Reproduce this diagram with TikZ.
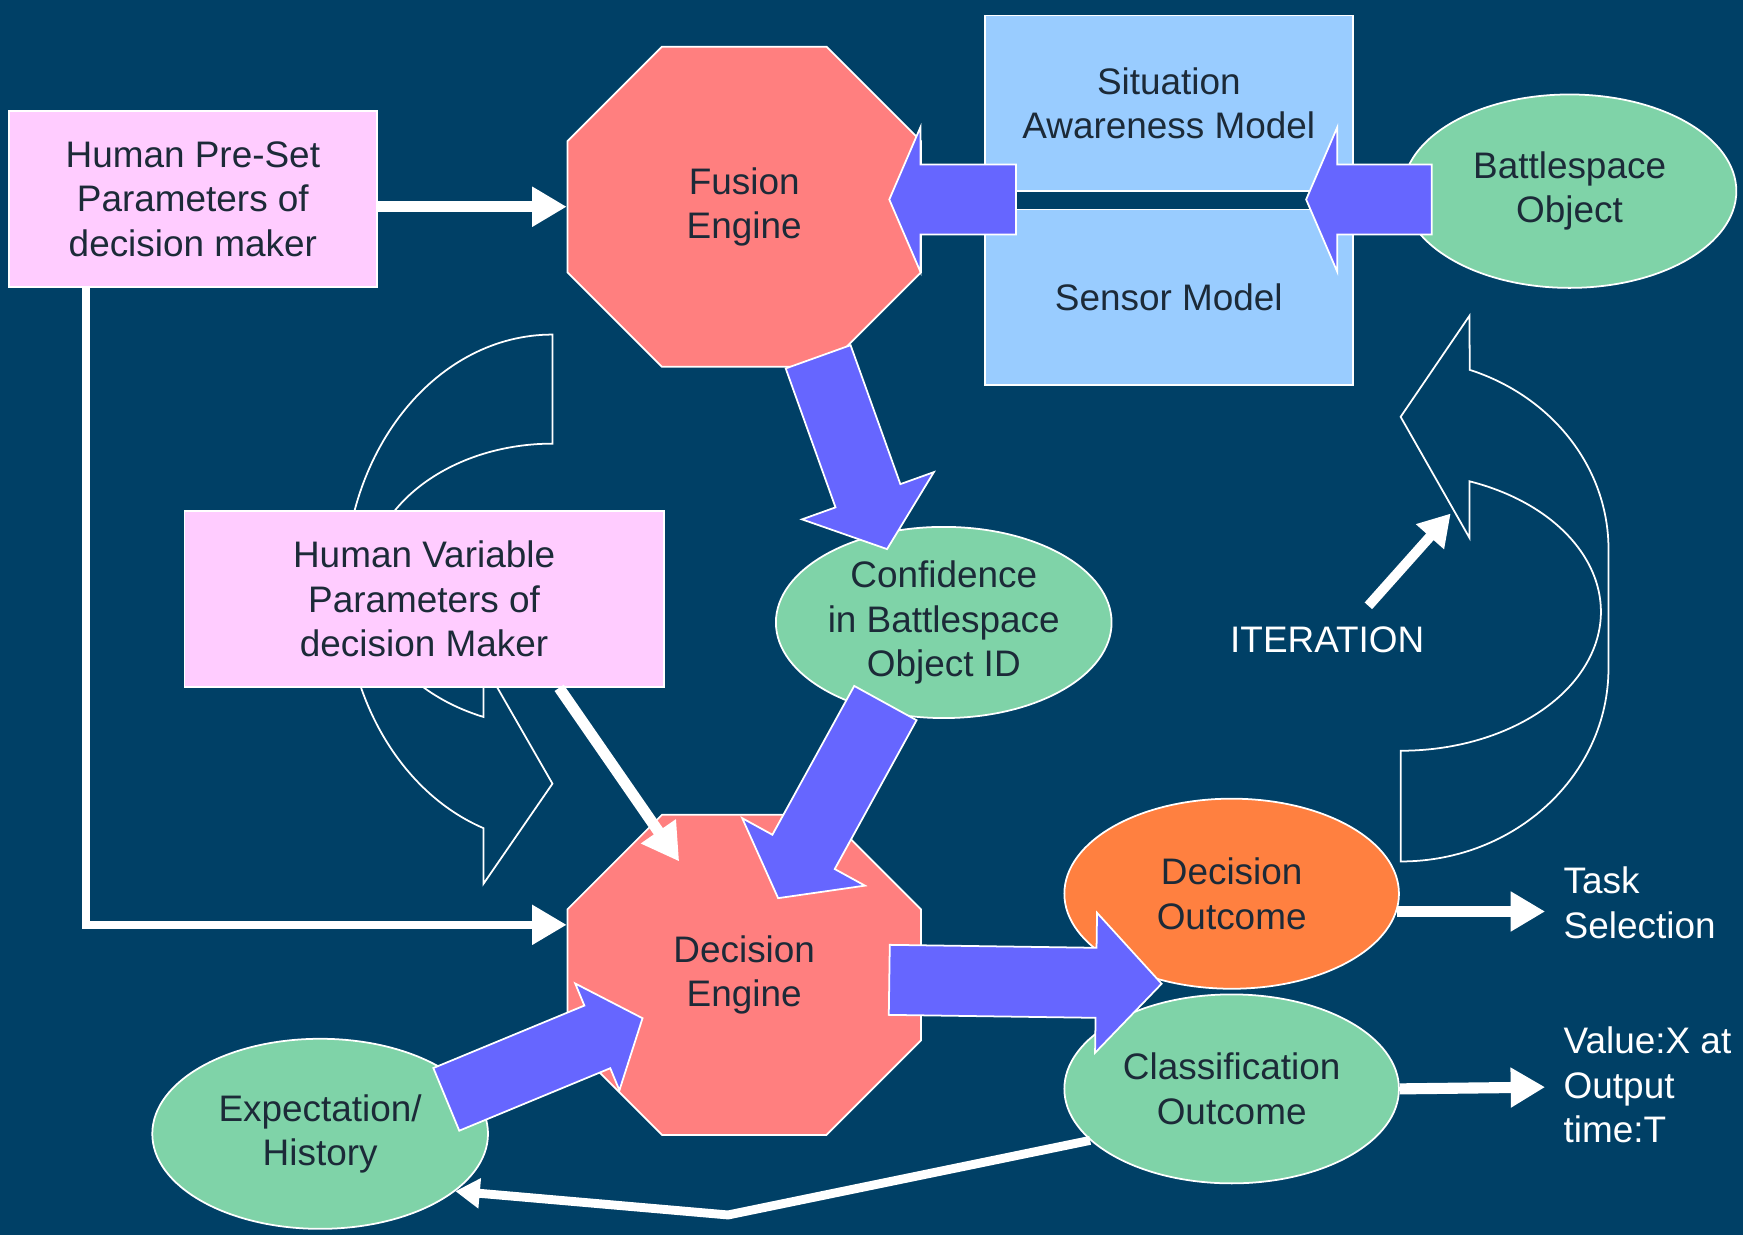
\documentclass[tikz,border=0pt]{standalone}
\usepackage{fontspec}
\setmainfont{Liberation Sans}
\usetikzlibrary{positioning,calc,shapes.geometric,arrows.meta}

\definecolor{bgblue}{HTML}{004066}
\definecolor{pinkbox}{HTML}{FFCCFF}
\definecolor{enginered}{HTML}{FF7F7F}
\definecolor{modelblue}{HTML}{99CCFF}
\definecolor{outgreen}{HTML}{7FD3A8}
\definecolor{outorange}{HTML}{FF8040}
\definecolor{fatblue}{HTML}{6666FF}
\definecolor{inktext}{HTML}{1C2A38}

\tikzset{
  box/.style={draw=white, line width=0.45pt, rectangle, inner sep=0pt, minimum height=15.8mm, text=inktext, align=center},
  blob/.style={draw=white, line width=0.45pt, ellipse, inner sep=0pt, minimum width=30.1mm, minimum height=17.1mm, fill=outgreen, text=inktext, align=center},
  enginetext/.style={inner sep=0pt, minimum width=31.8mm, minimum height=28.8mm, text=inktext, align=center},
  plain/.style={text=white, align=left, inner sep=0pt},
  whitearrow/.style={draw=white, line width=1mm, line join=miter, -{Triangle[length=3.1mm,width=3.4mm]}},
  outline/.style={draw=white, line width=0.45pt, line join=miter},
}

% octagon engine: name, centre, text
\newcommand{\enginebox}[3]{%
  \filldraw[fill=enginered, draw=white, line width=0.45pt] (#2) ++(-74,144) -- ++(148,0) -- ++(85,-85) -- ++(0,-118)
    -- ++(-85,-85) -- ++(-148,0) -- ++(-85,85) -- ++(0,118) -- cycle;
  \node[enginetext] (#1) at (#2) {#3};
}

% fat arrow: tail, tip, shaft half width, head half width, head length
\newcommand{\blockarrow}[5]{%
  \coordinate (ba-base) at ($(#2)!#5!(#1)$);
  \filldraw[fill=fatblue, draw=white, line width=0.45pt]
    ($(#1)!#3!90:(#2)$) -- ($(ba-base)!#3!-90:(#1)$) -- ($(ba-base)!#4!-90:(#1)$) -- (#2)
    -- ($(ba-base)!#4!90:(#1)$) -- ($(ba-base)!#3!90:(#1)$) -- ($(#1)!#3!-90:(#2)$) -- cycle;
}

\begin{document}
\begin{tikzpicture}[x=0.1mm, y=0.1mm, every node/.style={font=\fontsize{9.45}{11.4}\selectfont}]
	\fill[bgblue] (0,0) rectangle (1568,1111);
	\useasboundingbox (0,0) rectangle (1568,1111);

	% curved outline arrows
	\draw[outline] (497,810) arc[start angle=90, end angle=250.6, x radius=18.7mm, y radius=22.85mm]
		-- (435,316) -- (497,406) -- (435,514) -- (435,466)
		arc[start angle=248.2, end angle=90, x radius=16.7mm, y radius=12.75mm] -- cycle;
	\draw[outline] (1260,336) arc[start angle=270, end angle=360, x radius=18.7mm, y radius=17.4mm]
		-- (1447,617) arc[start angle=0, end angle=70.6, x radius=18.7mm, y radius=17.1mm]
		-- (1322,827) -- (1260,736) -- (1322,627) -- (1322,678)
		arc[start angle=69.9, end angle=-90, x radius=18mm, y radius=12.5mm] -- cycle;

	\node (preset) [box, fill=pinkbox, minimum width=33.1mm] at (173.5,932) {Human Pre-Set\\Parameters of\\decision maker};
	\enginebox{fusion}{669.5,925}{Fusion\\Engine}
	\node (sa) [box, fill=modelblue, minimum width=33.1mm] at (1051.5,1018) {Situation\\Awareness Model};
	\node (sensor) [box, fill=modelblue, minimum width=33.1mm, below=1.5mm of sa] {Sensor Model};
	\node (bso) [blob, minimum width=30mm, minimum height=17.4mm] at (1412,939) {Battlespace\\Object};
	\node (hvar) [box, fill=pinkbox, minimum width=43.1mm] at (381.5,572) {Human Variable\\Parameters of\\decision Maker};
	\node (conf) [blob, minimum width=30.2mm, minimum height=17.2mm] at (849,551) {Confidence\\in Battlespace\\Object ID};
	\enginebox{decision}{669.5,234}{Decision\\Engine}
	\node (decout) [blob, fill=outorange] at (1108,307) {Decision\\Outcome};
	\node (classout) [blob, minimum height=17mm, below=0.35mm of decout] {Classification\\Outcome};
	\node (expect) [blob, minimum width=30.2mm] at (288,91) {Expectation/\\History};
	\node (iter) [plain] at (1194,535) {ITERATION};
	\node (task) [plain, anchor=west] at (1406,299) {Task\\Selection};
	\node (value) [plain, anchor=west] at (1406,135) {Value:X at\\Output\\time:T};

	\coordinate (kink) at (655,18);
	\coordinate (it-start) at (1231,566);
	\coordinate (it-tip) at (1305,649);

	\draw[whitearrow] (preset.east |- fusion.west) -- (fusion.west);
	\draw[whitearrow, line width=0.75mm] ($(preset.south west)+(70,0)$) |- ($(decision.west)+(0,45)$);
	\draw[whitearrow, -{Triangle[length=3.3mm,width=3.6mm]}] ($(hvar.south)+(121.5,0)$) -- ($(decision.center)+(-58.5,102)$);
	\draw[whitearrow] ($(decout.east)+(-3,-16)$) -- ($(task.west)+(-16,-8)$);
	\draw[whitearrow] (classout.east) -- ($(value.west)+(-16,-2)$);
	\draw[whitearrow, line width=0.8mm, -{Triangle[length=2.2mm,width=2.6mm]}] (classout.200) -- (kink) -- (expect.-23);
	\draw[whitearrow, line width=0.9mm, -{Triangle[length=2.8mm,width=3.2mm]}] (it-start) -- (it-tip);

	% fat arrows
	\coordinate (fe-in) at (800,931.5);
	\coordinate (bo-in) at (1175,931.5);
	\blockarrow{914,931.5}{fe-in}{3.15mm}{6.5mm}{2.8mm}
	\blockarrow{1288,931.5}{bo-in}{3.15mm}{6.5mm}{2.8mm}
	\blockarrow{736,790}{798,617}{3.1mm}{6.3mm}{5.1mm}
	\blockarrow{796.5,478.5}{700,303}{3.2mm}{6.3mm}{4.75mm}
	\blockarrow{800,229.5}{1045,226}{3.15mm}{6.3mm}{5.9mm}
	\blockarrow{401.5,122}{578,195}{3.05mm}{5.2mm}{4.4mm}
\end{tikzpicture}
\end{document}
